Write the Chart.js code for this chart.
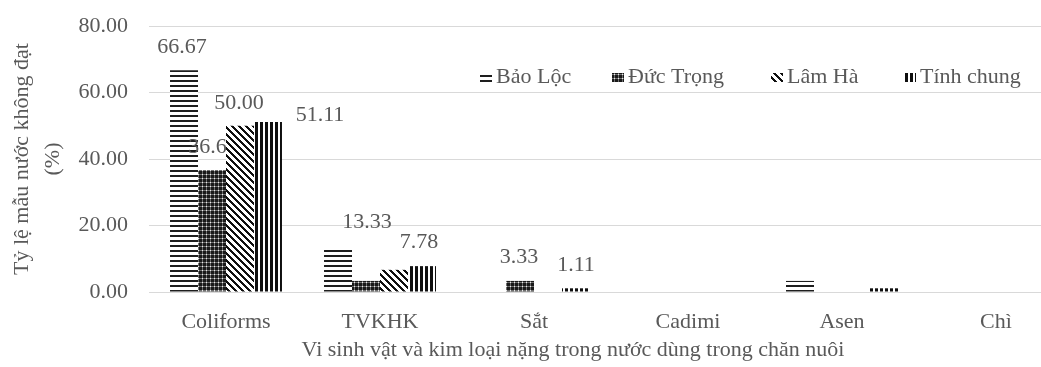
<!DOCTYPE html>
<html>
<head>
<meta charset="utf-8">
<script src="https://cdn.jsdelivr.net/npm/chart.js@4/dist/chart.umd.min.js"></script>
<style>
  html, body { margin: 0; padding: 0; overflow: hidden; background: #fff; }
  #wrap { width: 1080px; height: 367px; position: relative; }
</style>
</head>
<body>
<div id="wrap"><canvas id="c"></canvas></div>
<script>
// Categories and series
const categories = ['Coliforms', 'TVKHK', 'Sắt', 'Cadimi', 'Asen', 'Chì'];
const seriesNames = ['Bảo Lộc', 'Đức Trọng', 'Lâm Hà', 'Tính chung'];
const baoLoc    = [66.67, 13.33, 0,    0, 3.33, 0];
const ducTrong  = [36.67, 3.33,  3.33, 0, 0,    0];
const lamHa     = [50.00, 6.67,  0,    0, 0,    0];
const tinhChung = [51.11, 7.78,  1.11, 0, 1.11, 0];
const yTicks = [0, 20, 40, 60, 80];
const yTitle = ['Tỷ lệ mẫu nước không đạt', '(%)'];
const xTitle = 'Vi sinh vật và kim loại nặng trong nước dùng trong chăn nuôi';

const FONT = '"Liberation Serif", "Times New Roman", serif';
const FSIZE = 22;
const TEXT = '#595959';
const GRID = '#d9d9d9';

const canvas = document.getElementById('c');
const ctx = canvas.getContext('2d');

// Pixel-drawn hatch tiles
function hatch(size, fn) {
  const t = document.createElement('canvas');
  t.width = size; t.height = size;
  const g = t.getContext('2d');
  const img = g.createImageData(size, size);
  for (let y = 0; y < size; y++) {
    for (let x = 0; x < size; x++) {
      const v = fn(x, y); // gray level 0..255
      const k = (y * size + x) * 4;
      img.data[k] = v; img.data[k + 1] = v; img.data[k + 2] = v; img.data[k + 3] = 255;
    }
  }
  g.putImageData(img, 0, 0);
  return ctx.createPattern(t, 'repeat');
}
const patHoriz = hatch(5, (x, y) => (y % 5 < 2 ? 30 : 255));
const patGrid  = hatch(4, (x, y) => {
  if (x % 4 === 2 && y % 4 === 2) return 235;
  if (x % 4 === 2 || y % 4 === 2) return 110;
  return 25;
});
const patDiag  = hatch(7, (x, y) => ((((x - y) % 7) + 7) % 7 < 3 ? 15 : 255));
const patVert  = hatch(5, (x, y) => (x % 5 < 3 ? 15 : 255));
const patterns = [patHoriz, patGrid, patDiag, patVert];

// Value labels: which bars carry a label, and its offset from the bar top
const labelSpots = {
  '0-0': [-2, -23], '1-0': [1, -23], '2-0': [-1, -23], '3-0': [52, -7],
  '0-1': [29, -25], '3-1': [-3, -24],
  '1-2': [-1, -24], '3-2': [0, -23]
};

function drawLabelsFor(chart, ds) {
  const c = chart.ctx;
  const meta = chart.getDatasetMeta(ds);
  c.save();
  c.font = FSIZE + 'px ' + FONT;
  c.fillStyle = TEXT;
  c.textAlign = 'center';
  c.textBaseline = 'middle';
  meta.data.forEach((el, i) => {
    const spot = labelSpots[ds + '-' + i];
    if (!spot) return;
    const v = chart.data.datasets[ds].data[i];
    c.fillText(v.toFixed(2), el.x + spot[0], el.y + spot[1]);
  });
  c.restore();
}

// Draw series in order 0..3, each followed by its labels,
// so later series' bars sit over earlier labels.
const orderedBars = {
  id: 'orderedBars',
  beforeDatasetsDraw(chart) {
    const n = chart.data.datasets.length;
    for (let ds = 0; ds < n; ds++) {
      chart.getDatasetMeta(ds).controller.draw();
      drawLabelsFor(chart, ds);
    }
    return false;
  }
};

// Legend row and x-axis title
const legendStarts = [480, 612, 771, 904];
const extras = {
  id: 'extras',
  afterDraw(chart) {
    const c = chart.ctx;
    c.save();
    c.font = FSIZE + 'px ' + FONT;
    c.fillStyle = TEXT;
    c.textBaseline = 'alphabetic';
    c.textAlign = 'left';
    chart.data.datasets.forEach((d, i) => {
      const x0 = legendStarts[i];
      c.fillStyle = d.backgroundColor;
      c.fillRect(x0, 73, 12, 9);
      c.fillStyle = TEXT;
      c.fillText(d.label, x0 + 16, 83);
    });
    c.textAlign = 'center';
    c.fillText(xTitle, 573, 356);
    c.restore();
  }
};

new Chart(canvas, {
  type: 'bar',
  data: {
    labels: categories,
    datasets: [baoLoc, ducTrong, lamHa, tinhChung].map((vals, i) => ({
      label: seriesNames[i],
      data: vals,
      backgroundColor: patterns[i],
      borderWidth: 0,
      barPercentage: 1,
      categoryPercentage: 0.727
    }))
  },
  options: {
    responsive: true,
    maintainAspectRatio: false,
    animation: false,
    layout: { padding: { top: 26, right: 7, left: 0, bottom: 0 } },
    plugins: { legend: { display: false }, tooltip: { enabled: false } },
    scales: {
      x: {
        grid: { display: false, drawTicks: false },
        border: { display: false },
        ticks: { color: TEXT, font: { family: FONT, size: FSIZE }, padding: 17 },
        afterFit(s) { s.height = 75; }
      },
      y: {
        min: 0, max: 80,
        grid: { color: GRID, lineWidth: 1, drawTicks: true, tickLength: 21, tickColor: 'rgba(0,0,0,0)' },
        border: { display: false },
        ticks: {
          color: TEXT, font: { family: FONT, size: FSIZE }, padding: 0,
          callback: v => Number(v).toFixed(2)
        },
        afterBuildTicks(s) { s.ticks = yTicks.map(v => ({ value: v })); },
        title: {
          display: true, text: yTitle, color: TEXT,
          font: { family: FONT, size: FSIZE, lineHeight: 1.41 },
          padding: { top: 7, bottom: 0 }
        },
        afterFit(s) { s.width = 149; }
      }
    }
  },
  plugins: [orderedBars, extras]
});
</script>
</body>
</html>
